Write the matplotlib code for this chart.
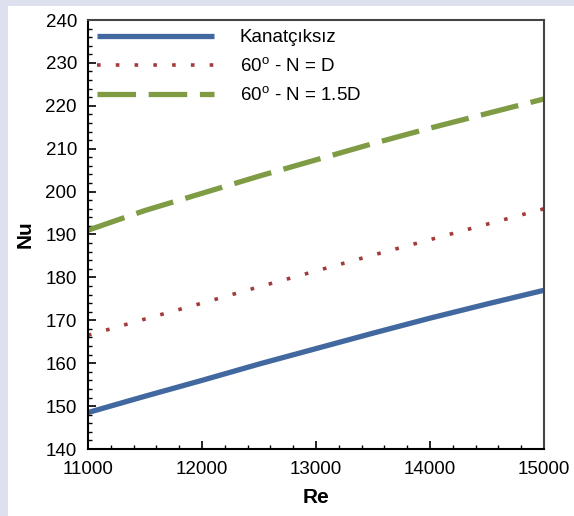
import matplotlib.pyplot as plt
from matplotlib.patches import Rectangle
from matplotlib.ticker import MultipleLocator

plt.rcParams['font.family'] = ['Liberation Sans', 'DejaVu Sans']

re = [11000, 11500, 12000, 12500, 13000, 13500, 14000, 14500, 15000]
nu_plain = [148.5, 152.3, 156.0, 159.8, 163.4, 167.0, 170.5, 173.8, 177.0]
nu_n_d = [166.5, 170.3, 174.0, 177.8, 181.5, 185.2, 188.8, 192.4, 196.0]
nu_n_15d = [191.0, 195.6, 199.6, 203.6, 207.4, 211.2, 214.8, 218.2, 221.6]

labels = ['Kanatçıksız', '60$^{\\mathregular{o}}$ - N = D', '60$^{\\mathregular{o}}$ - N = 1.5D']

fig = plt.figure(figsize=(5.74, 5.16), dpi=100, facecolor='#dde1ef')
fig.patches.append(Rectangle((8 / 574, 0), 1, 1 - 6 / 516, transform=fig.transFigure,
                             facecolor='white', edgecolor='none', zorder=-10))
ax = fig.add_axes([88 / 574, 1 - 449 / 516, 456 / 574, 429 / 516])

ax.plot(re, nu_plain, color='#41689f', lw=3.8, solid_capstyle='butt', label=labels[0])
ax.plot(re, nu_n_d, color='#a33b3b', lw=2.6, linestyle=(0, (1, 4.2)), label=labels[1])
ax.plot(re, nu_n_15d, color='#7f9c45', lw=3.8, linestyle=(0, (7.3, 2.4)), label=labels[2])

ax.set_xlim(11000, 15000)
ax.set_ylim(140, 240)
ax.xaxis.set_major_locator(MultipleLocator(1000))
ax.xaxis.set_minor_locator(MultipleLocator(200))
ax.yaxis.set_major_locator(MultipleLocator(10))
ax.yaxis.set_minor_locator(MultipleLocator(2))
ax.tick_params(which='both', direction='in', top=False, right=False, labelsize=13.5)
ax.tick_params(which='major', length=6, width=1.2)
ax.tick_params(which='minor', length=3, width=1)
ax.tick_params(axis='x', pad=9)
ax.tick_params(axis='y', pad=8)
for s in ax.spines.values():
    s.set_linewidth(1.5)
ax.spines['top'].set_color('#444444')
ax.spines['right'].set_color('#444444')

ax.set_xlabel('Re', fontsize=15, fontweight='bold', labelpad=7)
ax.set_ylabel('Nu', fontsize=15, fontweight='bold', labelpad=8)

ax.legend(loc='upper left', frameon=False, fontsize=13.5, handlelength=6.2,
          handletextpad=1.4, labelspacing=0.55, borderaxespad=0.1)

fig.savefig('out.png', dpi=100, facecolor=fig.get_facecolor())
